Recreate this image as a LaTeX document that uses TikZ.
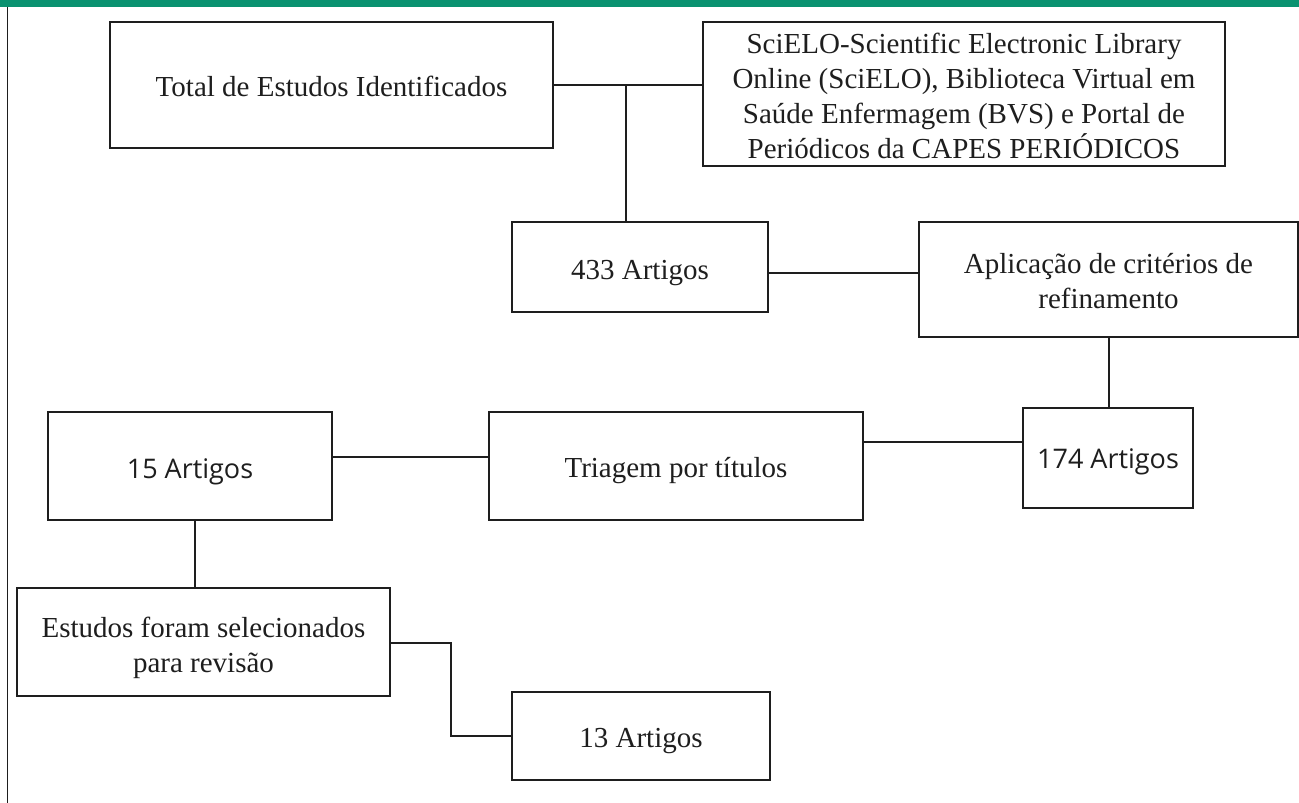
\documentclass[tikz,border=0pt]{standalone}
\usepackage{fontspec}
\setmainfont{Liberation Serif}
\newfontfamily\sansf{Open Sans}
\definecolor{bargreen}{RGB}{10,146,112}
\definecolor{ink}{RGB}{30,30,30}
\newcommand{\txt}[2][5pt]{\raisebox{-#1}[\height][\depth]{\begin{tabular}{@{}c@{}}#2\end{tabular}}}
\tikzset{
  box/.style={draw=ink, line width=2.1pt, rectangle, align=center, inner sep=0pt, text=ink,
    font=\fontsize{29}{35}\selectfont},
  sbox/.style={box, font=\sansf\fontsize{27}{33}\selectfont},
  link/.style={draw=ink, line width=2pt}
}
\begin{document}
\begin{tikzpicture}[x=1pt,y=-1pt]
\useasboundingbox (0,0) rectangle (1299,803);
\fill[white] (0,0) rectangle (1299,803);
\fill[bargreen] (0,0) rectangle (1299,7);
\draw[link, line width=1.4pt] (7.5,7) -- (7.5,803);

\node[box, minimum width=443, minimum height=126] (total) at (331.5,85) {\txt[4pt]{Total de Estudos Identificados}};
\node[box, minimum width=522, minimum height=144] (scielo) at (964,94) {\txt[5pt]{SciELO-Scientific Electronic Library\\Online (SciELO), Biblioteca Virtual em\\Saúde Enfermagem (BVS) e Portal de\\Periódicos da CAPES PERIÓDICOS}};
\node[box, minimum width=256, minimum height=90] (a433) at (640,267) {\txt{433 Artigos}};
\node[box, minimum width=379, minimum height=115] (aplic) at (1108.5,279.5) {\txt[4pt]{Aplicação de critérios de\\refinamento}};
\node[sbox, minimum width=170, minimum height=100] (a174) at (1108,458) {\txt[4pt]{174 Artigos}};
\node[box, minimum width=374, minimum height=108] (triagem) at (676,466) {\txt[4pt]{Triagem por títulos}};
\node[sbox, minimum width=284, minimum height=108] (a15) at (190,466) {\txt[6pt]{15 Artigos}};
\node[box, minimum width=373, minimum height=108] (estudos) at (203.5,642) {\txt[6pt]{Estudos foram selecionados\\para revisão}};
\node[box, minimum width=258, minimum height=88] (a13) at (641,736) {\txt[4pt]{13 Artigos}};

\coordinate (j1) at (626,85);
\draw[link] (total.east |- j1) -- (scielo.west |- j1);
\draw[link] (j1) -- (j1 |- a433.north);
\draw[link] (a433.east |- 0,273) -- (aplic.west |- 0,273);
\draw[link] (aplic.south) -- (aplic.south |- a174.north);
\draw[link] (triagem.east |- 0,442) -- (a174.west |- 0,442);
\draw[link] (a15.east |- 0,457) -- (triagem.west |- 0,457);
\draw[link] (a15.south -| 195,0) -- (estudos.north -| 195,0);
\draw[link] (estudos.east |- 0,643) -- (451,643) |- (a13.west);
\end{tikzpicture}
\end{document}
